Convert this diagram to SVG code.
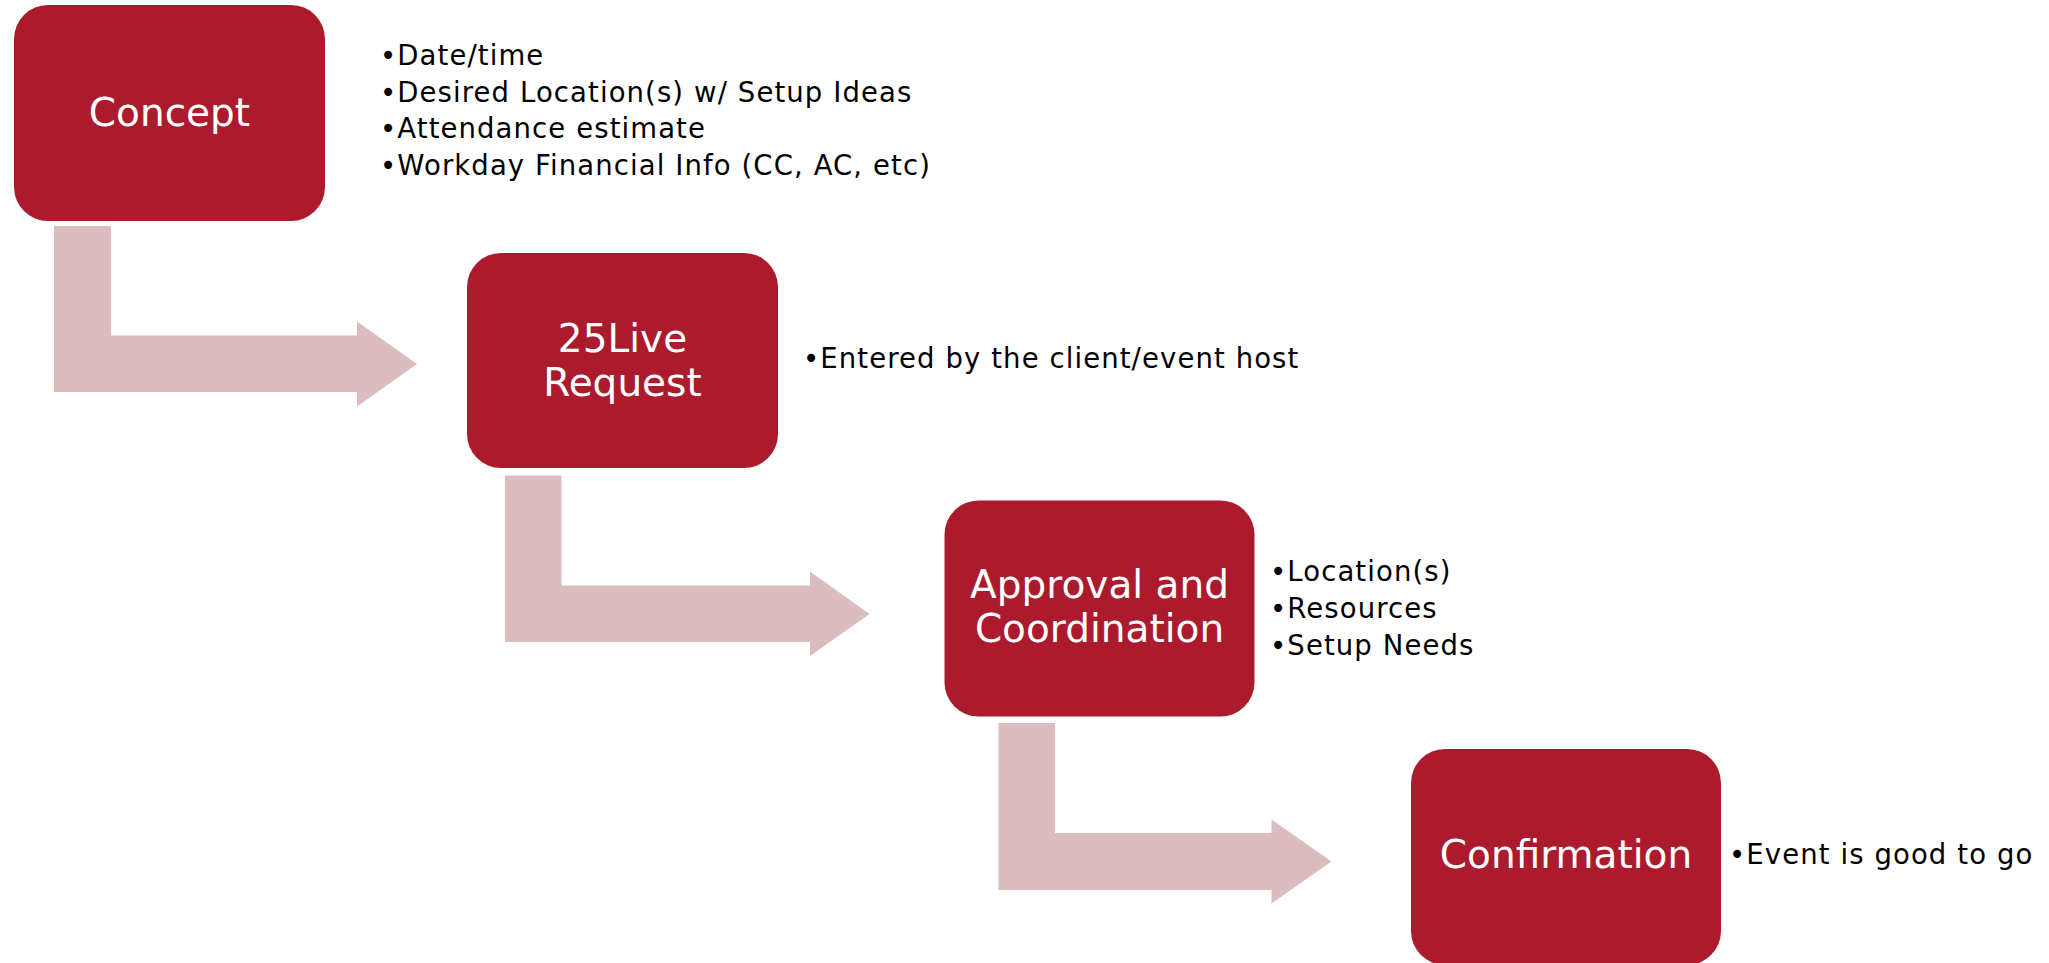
<svg xmlns="http://www.w3.org/2000/svg" width="2049" height="963" viewBox="0 0 2049 963">
  <style>
    .box { fill: #AC1A2E; }
    .bent { fill: #DBBCBF; }
    .label { font-family: "DejaVu Sans", Verdana, sans-serif; font-size: 39px; fill: #FFFFFF; text-anchor: middle; }
    .note { font-family: "DejaVu Sans", Verdana, sans-serif; font-size: 27.5px; letter-spacing: 1.1px; fill: #000000; }
  </style>
  <rect width="2049" height="963" fill="#FFFFFF"/>

  <!-- bent arrows between steps -->
  <g id="connectors">
    <path class="bent" d="M54,226 H111 V335.5 H357 V321.5 L417,364 L357,406.5 V392 H54 Z"/>
    <path class="bent" d="M505,475.5 H561.5 V585.5 H810 V571.5 L869.5,614 L810,656 V642 H505 Z"/>
    <path class="bent" d="M998.5,723 H1055 V833 H1271.5 V819.5 L1331.5,861.5 L1271.5,903.5 V890 H998.5 Z"/>
  </g>

  <g id="concept">
    <rect class="box" x="14" y="5" width="311" height="216" rx="34" ry="34"/>
    <text class="label" x="169.5" y="126">Concept</text>
    <text class="note" x="380" y="65">•Date/time</text>
    <text class="note" x="380" y="101.5">•Desired Location(s) w/ Setup Ideas</text>
    <text class="note" x="380" y="138">•Attendance estimate</text>
    <text class="note" x="380" y="174.5">•Workday Financial Info (CC, AC, etc)</text>
  </g>

  <g id="request">
    <rect class="box" x="467" y="253" width="311" height="215" rx="34" ry="34"/>
    <text class="label" x="622.5" y="352">25Live</text>
    <text class="label" x="622.5" y="396">Request</text>
    <text class="note" x="803" y="368">•Entered by the client/event host</text>
  </g>

  <g id="approval">
    <rect class="box" x="944.5" y="500.5" width="310" height="216" rx="34" ry="34"/>
    <text class="label" x="1099.5" y="598">Approval and</text>
    <text class="label" x="1099.5" y="642">Coordination</text>
    <text class="note" x="1270" y="581">•Location(s)</text>
    <text class="note" x="1270" y="618">•Resources</text>
    <text class="note" x="1270" y="654.5">•Setup Needs</text>
  </g>

  <g id="confirmation">
    <rect class="box" x="1411" y="749" width="310" height="216" rx="34" ry="34"/>
    <text class="label" x="1566" y="868">Confirmation</text>
    <text class="note" x="1729" y="864">•Event is good to go</text>
  </g>
</svg>
